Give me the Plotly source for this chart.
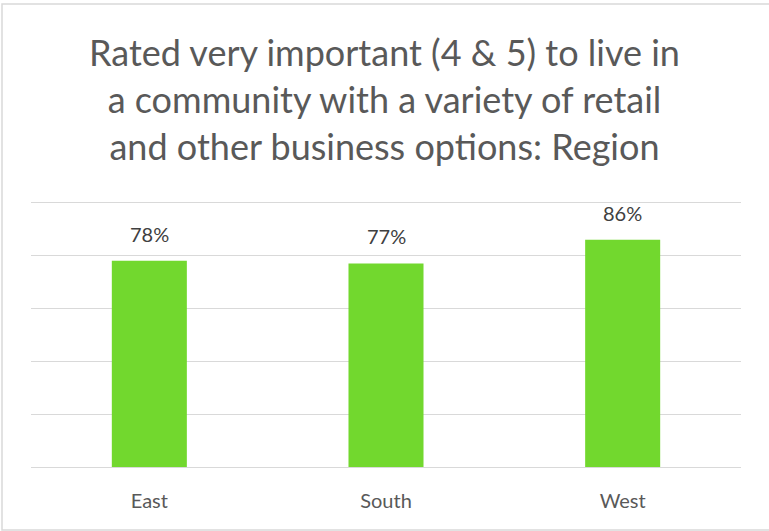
import plotly.graph_objects as go

regions = ["East", "South", "West"]
values = [78, 77, 86]
labels = ["78%", "77%", "86%"]
title_text = "Rated very important (4 & 5) to live in<br>a community with a variety of retail<br>and other business options: Region"

W, H = 769, 531
L, R, T, B = 31, 28, 200, 64
ph = H - T - B
pw = W - L - R
FONT = "Lato, 'Open Sans', sans-serif"

fig = go.Figure()
fig.add_trace(go.Bar(
    x=regions, y=values,
    marker=dict(color="#72D82E", line=dict(width=0)),
    width=0.317,
    hoverinfo="skip",
))

for r, v, t in zip(regions, values, labels):
    fig.add_annotation(
        x=r, y=v, text=t, showarrow=False, yanchor="middle",
        yshift=27, font=dict(family=FONT, size=20, color="#404040"),
    )

# outer chart border
fig.add_shape(type="rect", xref="paper", yref="paper",
              x0=(2 - L) / pw, x1=(W + 30 - L) / pw,
              y0=(H - B - 530) / ph, y1=(H - B - 4) / ph,
              line=dict(color="#D9D9D9", width=1.5), layer="below")

fig.update_layout(
    width=W, height=H,
    margin=dict(l=L, r=R, t=T, b=B),
    paper_bgcolor="white", plot_bgcolor="white",
    showlegend=False,
    title=dict(text=title_text, x=0.5, xanchor="center", y=(H - 66) / H, yanchor="middle",
               font=dict(family=FONT, size=36, color="#595959")),
    xaxis=dict(showgrid=False, showline=False, ticks="", ticklabelstandoff=20,
               tickfont=dict(family=FONT, size=20, color="#595959")),
    yaxis=dict(range=[0, 101], tickvals=[0, 20, 40, 60, 80, 100], showgrid=True,
               gridcolor="#D9D9D9", gridwidth=1.3,
               showticklabels=False, zeroline=True, zerolinecolor="#D9D9D9", zerolinewidth=1.3,
               showline=False, ticks=""),
    bargap=0.68,
)

fig.write_html("out.html", config={"displayModeBar": False},
               post_script="document.body.style.margin='0';")
